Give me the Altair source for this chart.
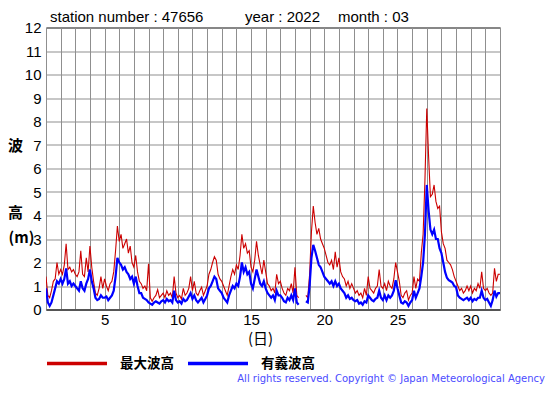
import altair as alt
import pandas as pd

# ---------------- data (3-hour steps) ----------------
series_names = ["最大波高", "有義波高"]
series_colors = ["#cc0000", "#0000ff"]

max_wave = [
    1.4, 0.6, 0.5, 0.8, 1.2, 1.3, 2.0, 1.5,     # 1
    1.7, 1.5, 1.9, 2.8, 1.7, 1.8, 1.6, 1.7,     # 2
    1.5, 1.4, 1.6, 2.5, 1.5, 1.4, 2.2, 1.6,     # 3
    2.7, 1.8, 1.2, 0.7, 0.6, 0.9, 1.4, 0.9,     # 4
    1.3, 1.0, 0.8, 1.1, 1.2, 1.6, 2.5, 3.55,    # 5
    2.9, 3.2, 2.6, 2.8, 3.0, 2.4, 2.7, 2.0,     # 6
    1.8, 2.3, 1.6, 1.2, 1.1, 0.9, 1.0, 0.8,     # 7
    1.95, 0.5, 0.35, 0.5, 0.6, 0.85, 0.5, 0.6,  # 8
    0.7, 0.5, 0.8, 0.6, 0.7, 0.5, 1.4, 0.7,     # 9
    0.5, 0.6, 0.45, 0.9, 0.6, 0.7, 0.9, 1.4,    # 10
    0.8, 1.2, 0.7, 0.6, 0.8, 0.95, 0.6, 0.8,    # 11
    1.0, 1.5, 1.7, 2.0, 2.25, 2.1, 1.5, 1.3,    # 12
    1.2, 1.0, 0.8, 0.6, 1.0, 1.4, 1.7, 1.5,     # 13
    1.9, 1.7, 2.3, 3.2, 2.6, 2.8, 2.4, 2.5,     # 14
    1.8, 1.6, 2.1, 2.9, 2.3, 1.9, 1.5, 2.1,     # 15
    1.6, 1.1, 1.0, 0.8, 0.9, 0.7, 1.5, 1.1,     # 16
    1.2, 0.9, 0.7, 0.6, 0.9, 0.8, 1.1, 0.7,     # 17
    1.8, 0.6, 0.5, None, 0.55, None, 0.6, 0.5,  # 18
    1.5, 3.3, 4.4, 3.7, 3.2, 3.45, 3.0, 2.8,    # 19
    2.6, 2.3, 2.0, 1.9, 2.1, 1.7, 2.45, 1.8,    # 20
    2.2, 1.6, 1.4, 1.3, 1.0, 1.2, 0.9, 1.1,     # 21
    0.9, 0.7, 0.8, 0.6, 0.7, 0.5, 0.9, 0.6,     # 22
    1.4, 0.9, 0.8, 0.7, 0.9, 1.0, 1.7, 1.0,     # 23
    0.9, 1.1, 0.8, 1.2, 1.0, 0.9, 1.3, 2.0,     # 24
    1.6, 1.2, 0.6, 0.5, 0.7, 0.8, 0.4, 0.6,     # 25
    0.7, 1.4, 0.9, 1.3, 1.2, 2.4, 3.2, 5.5,     # 26
    8.55, 6.5, 4.8, 4.9, 5.3, 4.6, 4.3, 4.4,    # 27
    3.3, 2.8, 2.6, 2.1, 2.0, 1.9, 1.7, 1.4,     # 28
    1.2, 1.0, 0.8, 0.9, 0.7, 0.8, 1.0, 0.8,     # 29
    1.0, 0.7, 0.9, 0.8, 1.1, 0.9, 1.6, 0.9,     # 30
    0.8, 0.9, 0.7, 0.6, 0.7, 1.75, 1.2, 1.5,    # 31
    1.5,
]

sig_wave = [
    0.9, 0.3, 0.15, 0.3, 0.6, 0.9, 1.2, 1.1,    # 1
    1.3, 1.1, 1.3, 1.75, 1.1, 1.2, 1.0, 1.1,    # 2
    1.0, 0.9, 0.8, 1.2, 0.9, 0.8, 1.1, 1.3,     # 3
    1.7, 1.2, 0.9, 0.5, 0.4, 0.45, 0.6, 0.5,    # 4
    0.5, 0.55, 0.4, 0.5, 0.6, 0.8, 1.4, 2.2,    # 5
    2.0, 1.9, 1.7, 1.8, 1.6, 1.5, 1.3, 1.4,     # 6
    1.1, 1.4, 1.0, 0.7, 0.7, 0.5, 0.45, 0.4,    # 7
    0.3, 0.25, 0.2, 0.3, 0.35, 0.3, 0.25, 0.35, # 8
    0.4, 0.3, 0.45, 0.35, 0.4, 0.3, 0.8, 0.4,   # 9
    0.3, 0.35, 0.25, 0.45, 0.35, 0.4, 0.55, 0.7,# 10
    0.45, 0.6, 0.4, 0.3, 0.4, 0.5, 0.3, 0.45,   # 11
    0.6, 0.9, 1.0, 1.2, 1.4, 1.3, 0.9, 0.8,     # 12
    0.7, 0.5, 0.4, 0.3, 0.6, 0.8, 1.0, 0.9,     # 13
    1.1, 1.0, 1.4, 2.0, 1.6, 1.8, 1.5, 1.6,     # 14
    1.1, 0.9, 1.3, 1.7, 1.4, 1.1, 1.0, 1.2,     # 15
    0.9, 0.7, 0.6, 0.5, 0.6, 0.4, 0.8, 0.6,     # 16
    0.6, 0.5, 0.35, 0.3, 0.5, 0.4, 0.6, 0.4,    # 17
    0.9, 0.3, 0.2, None, 0.4, None, 0.35, 0.3,  # 18
    1.0, 2.2, 2.75, 2.5, 2.2, 1.9, 1.8, 1.6,    # 19
    1.4, 1.3, 1.2, 1.1, 1.2, 1.0, 1.2, 1.0,     # 20
    1.1, 0.9, 0.8, 0.7, 0.5, 0.6, 0.45, 0.5,    # 21
    0.4, 0.35, 0.4, 0.25, 0.3, 0.2, 0.35, 0.3,  # 22
    0.6, 0.5, 0.4, 0.35, 0.45, 0.5, 0.8, 0.5,   # 23
    0.4, 0.6, 0.4, 0.6, 0.5, 0.6, 0.8, 1.25,    # 24
    0.9, 0.6, 0.3, 0.25, 0.35, 0.3, 0.15, 0.3,  # 25
    0.4, 0.8, 0.5, 0.7, 0.9, 1.4, 2.0, 3.2,     # 26
    5.3, 4.2, 3.4, 3.2, 3.4, 3.0, 3.0, 2.6,     # 27
    2.4, 2.0, 1.6, 1.35, 1.25, 1.2, 1.15, 1.0,  # 28
    0.95, 0.6, 0.5, 0.45, 0.4, 0.45, 0.5, 0.4,  # 29
    0.5, 0.35, 0.45, 0.4, 0.5, 0.5, 0.8, 0.5,   # 30
    0.4, 0.45, 0.3, 0.15, 0.4, 0.8, 0.55, 0.7,  # 31
    0.7,
]

x_ticks = list(range(1, 33))
y_ticks = list(range(0, 13))
title_parts = ["station number : 47656", "year : 2022", "month : 03"]
y_title_parts = ["波", "高", "(m)"]
copyright_text = "All rights reserved. Copyright \u00a9 Japan Meteorological Agency"

# ---------------- table ----------------
n = len(max_wave)
t = [1 + i / 8 for i in range(n)]
df = pd.DataFrame({
    "day": t + t,
    "height": max_wave + sig_wave,
    "series": [series_names[0]] * n + [series_names[1]] * n,
})

CJK = "Noto Sans CJK JP"
LAT = "Liberation Sans"

x_enc = alt.X(
    "day:Q",
    scale=alt.Scale(domain=[1, 32], nice=False, zero=False),
    axis=alt.Axis(
        values=x_ticks,
        labelExpr="datum.value % 5 == 0 ? datum.label : ''",
        labelOverlap=False,
        grid=True, gridColor="#8f8f8f", gridWidth=1,
        ticks=False, domain=True, domainColor="#555555", domainWidth=2,
        labelFont=LAT, labelFontSize=15, labelColor="black", labelPadding=3,
        title="(日)", titleFont=CJK, titleFontSize=15, titleFontWeight="normal",
        titleColor="black", titleX=214, titleY=29, titleAlign="center",
        titleBaseline="middle",
    ),
)
y_enc = alt.Y(
    "height:Q",
    scale=alt.Scale(domain=[0, 12], nice=False),
    axis=alt.Axis(
        values=y_ticks,
        grid=True, gridColor="#8f8f8f", gridWidth=1,
        ticks=False, domain=False,
        labelFont=LAT, labelFontSize=15, labelColor="black", labelPadding=5,
        title=None,
    ),
)
color_enc = alt.Color(
    "series:N",
    scale=alt.Scale(domain=series_names, range=series_colors),
    legend=alt.Legend(
        title=None, orient="none", legendX=-1, legendY=304,
        direction="horizontal", symbolType="stroke", symbolSize=3600,
        symbolStrokeWidth=3.5, labelFont=CJK, labelFontSize=13.5,
        labelFontWeight="bold", labelColor="black", labelOffset=11,
        columnPadding=7, padding=0,
    ),
)

base = alt.Chart(df).encode(x=x_enc, y=y_enc, color=color_enc)
red = base.transform_filter(alt.datum.series == series_names[0]).mark_line(strokeWidth=1.1, clip=True)
blue = base.transform_filter(alt.datum.series == series_names[1]).mark_line(strokeWidth=2.2, clip=True)

one = pd.DataFrame({"k": [0]})


def label(text, x, y, align="center", baseline="middle", font=CJK, size=15,
          weight="bold", color="black"):
    return alt.Chart(one).mark_text(
        text=text, align=align, baseline=baseline, font=font, fontSize=size,
        fontWeight=weight, color=color,
    ).encode(x=alt.value(x), y=alt.value(y))


t1 = label(title_parts[0], 4, -5.5, align="left", baseline="alphabetic",
           font=LAT, size=15, weight="normal")
t2 = label(title_parts[1], 199, -5.5, align="left", baseline="alphabetic",
           font=LAT, size=15, weight="normal")
t3 = label(title_parts[2], 292, -5.5, align="left", baseline="alphabetic",
           font=LAT, size=15, weight="normal")
yt1 = label(y_title_parts[0], 15.5 - 46, 146 - 27.5)
yt2 = label(y_title_parts[1], 15.5 - 46, 213 - 27.5)
yt3 = label(y_title_parts[2], 8.5 - 46, 238 - 27.5, align="left")
copy = label(copyright_text, 545 - 46, 382 - 27.5, align="right",
             baseline="alphabetic", font="DejaVu Sans", size=10,
             weight="normal", color="#4b4bff")

chart = alt.layer(red, blue, t1, t2, t3, yt1, yt2, yt3, copy).properties(
    width=454, height=282,
    autosize=alt.AutoSizeParams(type="none"),
    padding={"left": 38, "top": 19.5, "right": 46, "bottom": 75.5},
).configure_view(stroke="black", strokeWidth=1)

chart.save("out.html", embed_options={"renderer": "svg", "actions": False})
